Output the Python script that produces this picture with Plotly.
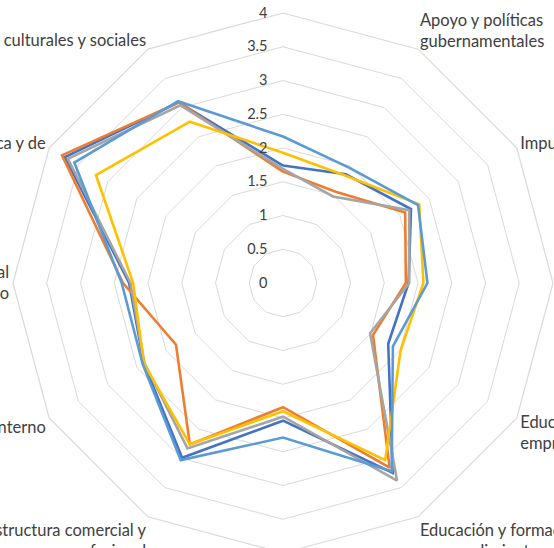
import plotly.graph_objects as go

categories = [
    "Financiamiento para emprendedores<br> ",
    "Apoyo y políticas<br>gubernamentales",
    "Impuestos y burocracia",
    "Programas gubernamentales",
    "Educación y formación en<br>emprendimiento etapa escolar",
    "Educación y formación en<br>emprendimiento post escolar",
    "Transferencia de I+D",
    "Infraestructura comercial y<br>profesional",
    "Dinámica del mercado interno",
    "Barreras de acceso al<br>mercado interno",
    "Acceso a infraestructura física y de",
    "Normas culturales y sociales",
]

series_names = ["Serie 1", "Serie 2", "Serie 3", "Serie 4", "Serie 5"]
serie_1 = [1.74, 1.86, 2.19, 1.86, 1.80, 3.25, 2.04, 2.99, 2.38, 2.28, 3.73, 3.09]
serie_2 = [1.65, 1.56, 2.09, 1.82, 1.54, 3.16, 1.84, 2.76, 1.83, 2.37, 3.78, 3.09]
serie_3 = [1.69, 1.48, 2.16, 1.87, 1.49, 3.38, 1.98, 2.83, 2.37, 2.26, 3.68, 3.04]
serie_4 = [1.93, 1.84, 2.33, 2.08, 2.01, 3.03, 1.90, 2.76, 2.38, 2.22, 3.20, 2.76]
serie_5 = [2.17, 1.97, 2.31, 2.14, 1.88, 3.22, 2.29, 3.03, 2.40, 2.39, 3.57, 3.11]

radial_ticks = [0, 0.5, 1, 1.5, 2, 2.5, 3, 3.5, 4]
radial_ticktext = ["0", "0.5", "1", "1.5", "2", "2.5", "3", "3.5", "4"]

colors = ["#4472C4", "#ED7D31", "#A5A5A5", "#FFC000", "#5B9BD5"]

fig = go.Figure()
for name, vals, col in zip(series_names, [serie_1, serie_2, serie_3, serie_4, serie_5], colors):
    fig.add_trace(go.Scatterpolar(
        r=vals + vals[:1],
        theta=categories + categories[:1],
        mode="lines",
        name=name,
        line=dict(color=col, width=2.6),
        showlegend=False,
    ))

FONT = "Lato, 'Open Sans', sans-serif"

fig.update_layout(
    width=554,
    height=566,
    margin=dict(l=13, r=1, t=13, b=13),
    paper_bgcolor="white",
    plot_bgcolor="white",
    showlegend=False,
    polar=dict(
        bgcolor="white",
        gridshape="linear",
        domain=dict(x=[0, 1], y=[0, 1]),
        radialaxis=dict(
            range=[0, 4],
            tickvals=radial_ticks,
            ticktext=radial_ticktext,
            angle=90,
            tickangle=90,
            side="counterclockwise",
            showline=False,
            ticks="outside",
            ticklen=10,
            tickcolor="rgba(0,0,0,0)",
            gridcolor="#D9D9D9",
            gridwidth=1.2,
            tickfont=dict(family=FONT, size=14.5, color="#404040"),
        ),
        angularaxis=dict(
            direction="clockwise",
            rotation=90,
            showgrid=False,
            showline=True,
            linecolor="#D9D9D9",
            linewidth=1.2,
            ticks="",
            tickfont=dict(family=FONT, size=16.5, color="#404040"),
        ),
    ),
)

fig.write_html(
    "out.html",
    config={"displayModeBar": False},
    post_script="document.body.style.margin='0';document.body.style.overflow='hidden';document.documentElement.style.overflow='hidden';",
)
